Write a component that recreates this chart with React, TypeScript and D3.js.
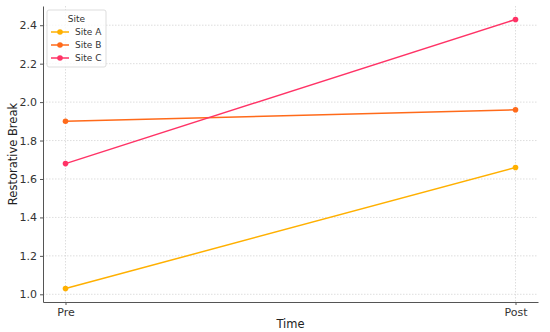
import React from 'react';
import * as d3 from 'd3';
import { useRef, useEffect } from 'react';

const times = ['Pre', 'Post'];
const siteNames = ['Site A', 'Site B', 'Site C'];
const siteA = [1.03, 1.66];
const siteB = [1.9, 1.96];
const siteC = [1.68, 2.43];
const yTicks = [1.0, 1.2, 1.4, 1.6, 1.8, 2.0, 2.2, 2.4];
const colors = ['#FFB000', '#FF6A1A', '#FF3366'];

const width = 550;
const height = 332;

function App() {
  const root = useRef<HTMLDivElement>(null);

  useEffect(() => {
    const node = root.current;
    if (!node) return;
    const font = 'DejaVu Sans, sans-serif';
    const margin = { left: 43, right: 12, top: 6, bottom: 30 };
    const series = [siteA, siteB, siteC];

    const x = d3
      .scaleLinear()
      .domain([-0.05, 1.05])
      .range([margin.left, width - margin.right]);
    const y = d3
      .scaleLinear()
      .domain([0.96, 2.5])
      .range([height - margin.bottom, margin.top]);

    const svg = d3
      .create('svg')
      .attr('width', width)
      .attr('height', height)
      .attr('viewBox', `0 0 ${width} ${height}`)
      .style('display', 'block')
      .style('font-family', font);

    // grid
    const grid = svg.append('g').attr('stroke', '#d6d6d6').attr('stroke-width', 0.8).attr('stroke-dasharray', '1.5,1.5');
    yTicks.forEach(t => {
      grid.append('line').attr('x1', margin.left).attr('x2', width - margin.right).attr('y1', y(t)).attr('y2', y(t));
    });
    times.forEach((_, i) => {
      grid.append('line').attr('x1', x(i)).attr('x2', x(i)).attr('y1', margin.top).attr('y2', height - margin.bottom);
    });

    // axes
    const yAxis = svg
      .append('g')
      .attr('transform', `translate(${margin.left},0)`)
      .call(d3.axisLeft(y).tickValues(yTicks).tickFormat(d3.format('.1f')).tickSize(3).tickSizeOuter(0));
    const xAxis = svg
      .append('g')
      .attr('transform', `translate(0,${height - margin.bottom})`)
      .call(d3.axisBottom(x).tickValues([0, 1]).tickFormat((d: any) => times[d]).tickSize(3).tickSizeOuter(0));
    [xAxis, yAxis].forEach(g => {
      g.select('.domain').attr('stroke', '#555').attr('stroke-width', 1);
      g.selectAll('.tick line').attr('stroke', '#555');
      g.selectAll('.tick text').attr('fill', '#333').style('font-size', '11px').style('font-family', font);
    });

    svg
      .append('text')
      .attr('x', (margin.left + width - margin.right) / 2)
      .attr('y', 328)
      .attr('text-anchor', 'middle')
      .attr('fill', '#222')
      .style('font-size', '11.5px')
      .text('Time');
    svg
      .append('text')
      .attr('transform', `translate(17,${(margin.top + height - margin.bottom) / 2}) rotate(-90)`)
      .attr('text-anchor', 'middle')
      .attr('fill', '#222')
      .style('font-size', '11.5px')
      .text('Restorative Break');

    const line = d3
      .line<number>()
      .x((_, i) => x(i))
      .y(d => y(d));

    series.forEach((s, k) => {
      svg
        .append('path')
        .datum(s)
        .attr('fill', 'none')
        .attr('stroke', colors[k])
        .attr('stroke-width', 1.5)
        .attr('d', line);
      svg
        .append('g')
        .selectAll('circle')
        .data(s)
        .join('circle')
        .attr('cx', (_, i) => x(i))
        .attr('cy', d => y(d))
        .attr('r', 2.8)
        .attr('fill', colors[k]);
    });

    // legend
    const lg = svg.append('g').attr('transform', 'translate(47,10)');
    lg.append('rect')
      .attr('width', 59)
      .attr('height', 57)
      .attr('rx', 2)
      .attr('fill', 'white')
      .attr('fill-opacity', 0.8)
      .attr('stroke', '#ddd');
    lg.append('text')
      .attr('x', 29.5)
      .attr('y', 12)
      .attr('text-anchor', 'middle')
      .attr('fill', '#333')
      .style('font-size', '9px')
      .text('Site');
    siteNames.forEach((name, k) => {
      const yy = 22 + k * 13;
      lg.append('line').attr('x1', 4).attr('x2', 22).attr('y1', yy).attr('y2', yy).attr('stroke', colors[k]).attr('stroke-width', 1.5);
      lg.append('circle').attr('cx', 13).attr('cy', yy).attr('r', 2.8).attr('fill', colors[k]);
      lg.append('text')
        .attr('x', 28)
        .attr('y', yy + 3.3)
        .attr('fill', '#333')
        .style('font-size', '9px')
        .text(name);
    });

    node.appendChild(svg.node() as Node);
    return () => {
      while (node.firstChild) node.removeChild(node.firstChild);
    };
  }, []);

  return <div ref={root} style={{ position: 'absolute', left: 0, top: 0 }} />;
}

export default App;
